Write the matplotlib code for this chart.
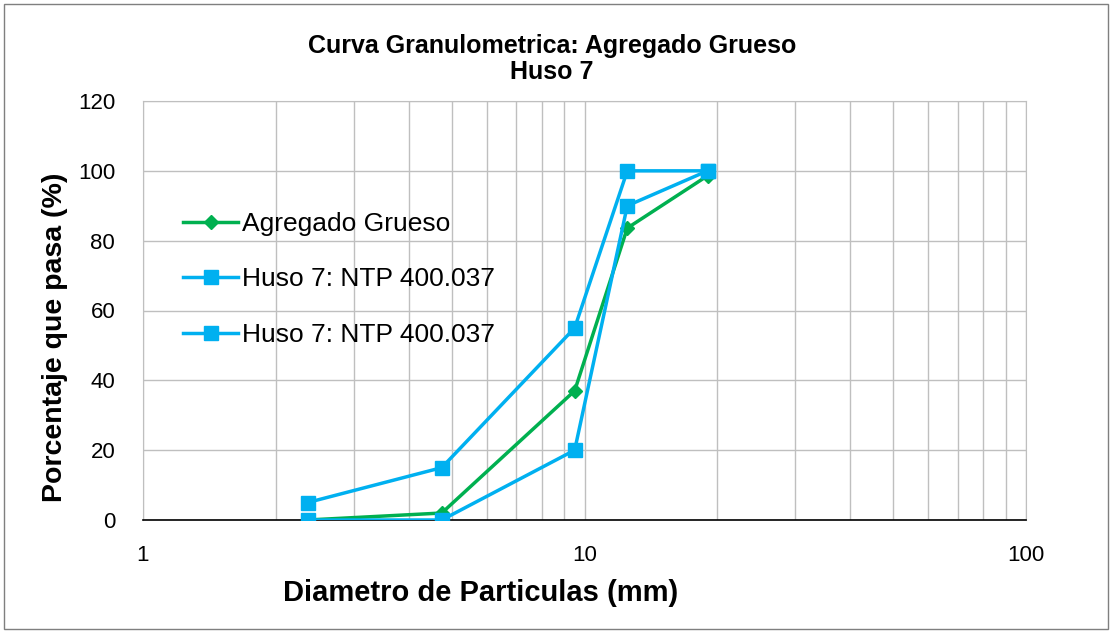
import matplotlib.pyplot as plt
from matplotlib.patches import Rectangle
from matplotlib.ticker import FixedLocator, NullFormatter

plt.rcParams['font.family'] = ['Liberation Sans', 'DejaVu Sans']

# tamices (mm)
sizes = [2.36, 4.75, 9.5, 12.5, 19.0]
agregado = [0, 2, 37, 83.6, 98.6]
huso_sup = [5, 15, 55, 100, 100]
huso_inf = [0, 0, 20, 90, 100]

green = "#00b050"
blue = "#00b0f0"
W, H = 1112, 633

fig = plt.figure(figsize=(W / 100, H / 100), dpi=100)
ax = fig.add_axes([143 / W, 1 - 520 / H, (1026 - 143) / W, (520 - 101) / H])

ax.plot(sizes, agregado, color=green, lw=2.5, marker="D", markersize=7,
        label="Agregado Grueso", zorder=3)
ax.plot(sizes, huso_sup, color=blue, lw=2.5, marker="s", markersize=10,
        label="Huso 7: NTP 400.037", zorder=4)
ax.plot(sizes, huso_inf, color=blue, lw=2.5, marker="s", markersize=10,
        label="Huso 7: NTP 400.037", zorder=4)

ax.set_xscale("log")
ax.set_xlim(1, 100)
ax.set_ylim(0, 120)
ax.set_yticks(range(0, 121, 20))
ax.set_xticks([1, 10, 100])
ax.set_xticklabels(["1", "10", "100"])
ax.xaxis.set_minor_locator(FixedLocator([2, 3, 4, 5, 6, 7, 8, 9, 20, 30, 40, 50, 60, 70, 80, 90]))
ax.xaxis.set_minor_formatter(NullFormatter())
ax.grid(True, which="both", color="#bfbfbf", lw=1)
ax.set_axisbelow(True)
ax.tick_params(which="both", length=0, labelsize=16)
ax.tick_params(axis="x", pad=18)
ax.tick_params(axis="y", pad=20)
for s in ["top", "right", "left"]:
    ax.spines[s].set_color("#bfbfbf")
ax.spines["bottom"].set_color("black")
ax.spines["bottom"].set_linewidth(1.2)

fig.text(481 / W, 1 - 593 / H, "Diametro de Particulas (mm)", ha="center", va="center",
         fontsize=21, fontweight="bold")
fig.text(55 / W, 1 - 337 / H, "Porcentaje que pasa (%)", ha="center", va="center",
         rotation=90, fontsize=20.5, fontweight="bold")
fig.text(552 / W, 1 - 59 / H, "Curva Granulometrica: Agregado Grueso\nHuso 7", ha="center",
         va="center", fontsize=18, fontweight="bold", linespacing=1.1)

leg = ax.legend(loc="upper left", bbox_to_anchor=((183 - 143) / 883, (520 - 212) / 419),
                frameon=False, borderpad=0, borderaxespad=0, fontsize=19,
                handlelength=2.1, handletextpad=0.15, labelspacing=1.19)

fig.patches.append(Rectangle((4 / W, 4 / H), 1 - 8 / W, 1 - 8 / H,
                             transform=fig.transFigure, fill=False,
                             edgecolor="#7f7f7f", lw=1))

fig.savefig("out.png", dpi=100)
